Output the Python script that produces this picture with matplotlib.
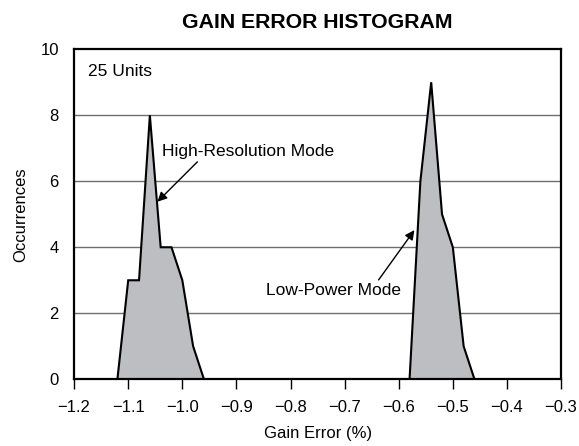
import matplotlib
matplotlib.use("Agg")
import matplotlib.pyplot as plt

plt.rcParams['font.family'] = ['Liberation Sans', 'DejaVu Sans']

# high-resolution mode frequency polygon
hr_err = [-1.12, -1.10, -1.08, -1.06, -1.04, -1.02, -1.00, -0.98, -0.96]
hr_count = [0, 3, 3, 8, 4, 4, 3, 1, 0]

# low-power mode frequency polygon
lp_err = [-0.58, -0.56, -0.54, -0.52, -0.50, -0.48, -0.46]
lp_count = [0, 6, 9, 5, 4, 1, 0]

xticks = [-1.2, -1.1, -1.0, -0.9, -0.8, -0.7, -0.6, -0.5, -0.4, -0.3]
yticks = [0, 2, 4, 6, 8, 10]

fig = plt.figure(figsize=(5.79, 4.46), dpi=100)
ax = fig.add_axes([0.128, 0.1496, 0.841, 0.74])

for xs, ys in [(hr_err, hr_count), (lp_err, lp_count)]:
    ax.fill(xs, ys, facecolor='#bdbec2', edgecolor='black', linewidth=1.5, zorder=3)

for y in yticks[1:-1]:
    ax.axhline(y, color='#6e6e6e', linewidth=1.0, zorder=1)

ax.set_xlim(-1.2, -0.3)
ax.set_ylim(0, 10)
ax.set_xticks(xticks)
ax.set_xticklabels(['\u2212%.1f' % abs(v) for v in xticks])
ax.set_yticks(yticks)
ax.tick_params(axis='x', direction='out', length=7, width=1, labelsize=12, pad=8)
ax.tick_params(axis='y', length=0, labelsize=12, pad=11)
for s in ax.spines.values():
    s.set_linewidth(1.6)
    s.set_zorder(4)

ax.set_xlabel('Gain Error (%)', fontsize=12, labelpad=8)
ax.set_ylabel('Occurrences', fontsize=12, labelpad=9)
ax.set_title('GAIN ERROR HISTOGRAM', fontsize=15.3, fontweight='bold', pad=15)

ax.text(-1.175, 9.34, '25 Units', fontsize=12.5, va='center', ha='left')

ax.annotate('High-Resolution Mode', xy=(-1.046, 5.38), xytext=(-1.037, 6.9),
            fontsize=12.5, ha='left', va='center',
            arrowprops=dict(arrowstyle='-|>', color='black', lw=1.0,
                            mutation_scale=14, shrinkA=0, shrinkB=0,
                            relpos=(0.22, 0.0)))
ax.annotate('Low-Power Mode', xy=(-0.571, 4.52), xytext=(-0.596, 2.7),
            fontsize=12.5, ha='right', va='center',
            arrowprops=dict(arrowstyle='-|>', color='black', lw=1.0,
                            mutation_scale=14, shrinkA=0, shrinkB=0,
                            relpos=(0.82, 1.0)))

plt.savefig('out.png', dpi=100)
